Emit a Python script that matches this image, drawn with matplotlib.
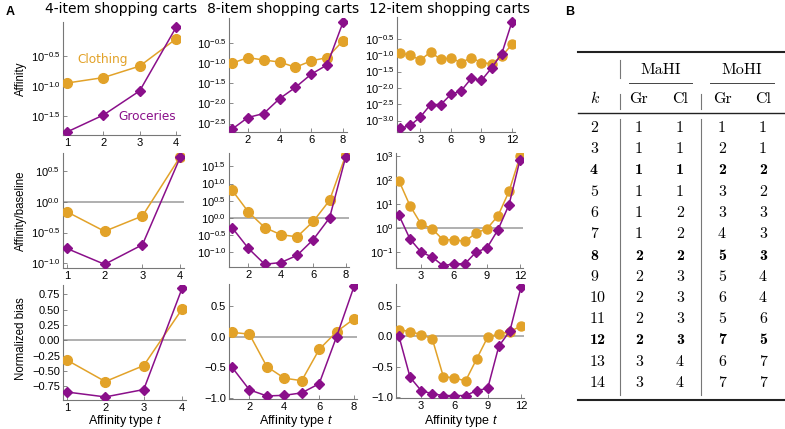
import matplotlib
matplotlib.use("Agg")
import matplotlib.pyplot as plt
import numpy as np

plt.rcParams["font.family"] = ["Liberation Sans", "DejaVu Sans"]
plt.rcParams["mathtext.fontset"] = "custom"
plt.rcParams["mathtext.rm"] = "Liberation Sans"
plt.rcParams["mathtext.it"] = "Liberation Sans:italic"
plt.rcParams["mathtext.bf"] = "Liberation Sans:bold"

# ---- data (rows 1 and 2 as log10 exponents) ----
t4 = [1, 2, 3, 4]
t8 = [1, 2, 3, 4, 5, 6, 7, 8]
t12 = [1, 2, 3, 4, 5, 6, 7, 8, 9, 10, 11, 12]

aff4_cl = [-0.95, -0.86, -0.67, -0.22]
aff4_gr = [-1.76, -1.48, -1.08, -0.03]
aff8_cl = [-1.0, -0.86, -0.92, -0.97, -1.1, -0.94, -0.86, -0.44]
aff8_gr = [-2.64, -2.35, -2.25, -1.88, -1.6, -1.27, -1.04, 0.02]
aff12_cl = [-0.93, -1.0, -1.15, -0.9, -1.13, -1.08, -1.23, -1.07, -1.23, -1.26, -1.03, -0.67]
aff12_gr = [-3.24, -3.15, -2.89, -2.51, -2.51, -2.2, -2.09, -1.71, -1.77, -1.39, -0.95, 0.02]

rel4_cl = [-0.16, -0.48, -0.23, 0.74]
rel4_gr = [-0.76, -1.02, -0.70, 0.73]
rel8_cl = [0.8, 0.17, -0.28, -0.49, -0.55, -0.1, 0.51, 1.83]
rel8_gr = [-0.29, -0.89, -1.35, -1.3, -1.09, -0.63, 0.0, 1.78]
rel12_cl = [1.97, 0.93, 0.17, -0.03, -0.49, -0.49, -0.56, -0.21, -0.03, 0.51, 1.53, 2.99]
rel12_gr = [0.53, -0.46, -1.0, -1.21, -1.57, -1.5, -1.49, -1.01, -0.83, -0.07, 0.97, 2.85]

bias4_cl = [-0.32, -0.67, -0.41, 0.51]
bias4_gr = [-0.84, -0.92, -0.8, 0.85]
bias8_cl = [0.07, 0.04, -0.49, -0.68, -0.72, -0.21, 0.08, 0.29]
bias8_gr = [-0.5, -0.87, -0.97, -0.96, -0.92, -0.77, 0.0, 0.82]
bias12_cl = [0.11, 0.08, 0.03, -0.04, -0.66, -0.68, -0.73, -0.37, -0.01, 0.04, 0.08, 0.17]
bias12_gr = [0.0, -0.67, -0.89, -0.94, -0.97, -0.97, -0.97, -0.89, -0.85, -0.16, 0.09, 0.81]

titles = ["4-item shopping carts", "8-item shopping carts", "12-item shopping carts"]
row_labels = ["Affinity", "Affinity/baseline", "Normalized bias"]
xticks = [[1, 2, 3, 4], [2, 4, 6, 8], [3, 6, 9, 12]]
yticks = [
    [[-1.5, -1.0, -0.5], [-2.5, -2.0, -1.5, -1.0, -0.5], [-3.0, -2.5, -2.0, -1.5, -1.0, -0.5]],
    [[-1.0, -0.5, 0.0, 0.5], [-1.0, -0.5, 0.0, 0.5, 1.0, 1.5], [-1, 0, 1, 2, 3]],
    [[-0.75, -0.5, -0.25, 0.0, 0.25, 0.5, 0.75], [-1.0, -0.5, 0.0, 0.5], [-1.0, -0.5, 0.0, 0.5]],
]

# table B
tab_k = [2, 3, 4, 5, 6, 7, 8, 9, 10, 11, 12, 13, 14]
mahi_gr = [1, 1, 1, 1, 1, 1, 2, 2, 2, 2, 2, 3, 3]
mahi_cl = [1, 1, 1, 1, 2, 2, 2, 3, 3, 3, 3, 4, 4]
mohi_gr = [1, 2, 2, 3, 3, 4, 5, 5, 6, 5, 7, 6, 7]
mohi_cl = [1, 1, 2, 2, 3, 3, 3, 4, 4, 6, 5, 7, 7]
bold_k = [4, 8, 12]

CL = "#e2a229"
GR = "#8a0f8a"

W, H = 785, 429
fig = plt.figure(figsize=(W / 100, H / 100), dpi=100)

# pixel boxes (x0, x1, y0, y1), xlim and ylim for every panel
boxes = [
    [(63, 180, 22, 135), (229, 347, 18, 132), (397, 515, 17, 132)],
    [(63, 184, 153, 268), (229, 349, 153, 267), (396, 523, 153, 268)],
    [(63, 186, 285, 400), (229, 357, 284, 399), (396, 524, 284, 398)],
]
xlims = [
    [(0.89, 4.11), (0.81, 8.25), (0.7, 12.3)],
    [(0.9, 4.1), (0.8, 8.2), (0.73, 12.27)],
    [(0.9, 4.1), (0.83, 8.17), (0.73, 12.27)],
]
ylims = [
    [(-1.81, 0.06), (-2.71, 0.125), (-3.35, 0.17)],
    [(-1.08, 0.8), (-1.43, 1.89), (-1.67, 3.13)],
    [(-0.97, 0.9), (-1.02, 0.86), (-1.01, 0.86)],
]

series = [
    [(t4, aff4_cl, aff4_gr), (t8, aff8_cl, aff8_gr), (t12, aff12_cl, aff12_gr)],
    [(t4, rel4_cl, rel4_gr), (t8, rel8_cl, rel8_gr), (t12, rel12_cl, rel12_gr)],
    [(t4, bias4_cl, bias4_gr), (t8, bias8_cl, bias8_gr), (t12, bias12_cl, bias12_gr)],
]


def fmt_pow(v):
    s = f"{v:d}" if isinstance(v, int) else f"{v:.1f}"
    return r"$\mathregular{10^{" + s + "}}$"


for r in range(3):
    for c in range(3):
        x0, x1, y0, y1 = boxes[r][c]
        ax = fig.add_axes([x0 / W, 1 - y1 / H, (x1 - x0) / W, (y1 - y0) / H])
        t, cl, gr = series[r][c]
        ms_c, ms_g = (7, 5.5) if c < 2 else (6.5, 5)
        if r < 2:
            ax.set_yscale("log")
            cl_v = 10 ** np.array(cl)
            gr_v = 10 ** np.array(gr)
            ax.set_ylim(10 ** ylims[r][c][0], 10 ** ylims[r][c][1])
            ax.set_yticks([10 ** v for v in yticks[r][c]])
            ax.set_yticklabels([fmt_pow(v) for v in yticks[r][c]])
            ax.yaxis.set_minor_locator(matplotlib.ticker.NullLocator())
            ref = 1.0
        else:
            cl_v, gr_v = cl, gr
            ax.set_ylim(*ylims[r][c])
            ax.set_yticks(yticks[r][c])
            f = "{:.2f}" if c == 0 else "{:.1f}"
            ax.set_yticklabels([f.format(v).replace("-", "\u2212") for v in yticks[r][c]])
            ref = 0.0
        if r > 0:
            ax.axhline(ref, color="#9a9a9a", lw=1.1, zorder=1)
        ax.plot(t, cl_v, "-o", color=CL, ms=ms_c, lw=1.1, zorder=3)
        ax.plot(t, gr_v, "-D", color=GR, ms=ms_g, lw=1.1, zorder=4)
        ax.set_xlim(*xlims[r][c])
        ax.set_xticks(xticks[c])
        for s in ["top", "right"]:
            ax.spines[s].set_visible(False)
        for s in ["left", "bottom"]:
            ax.spines[s].set_color("#777777")
            ax.spines[s].set_linewidth(0.8)
        ax.tick_params(direction="in", length=3, width=0.6, color="#777777",
                       labelsize=8, pad=2)
        ax.patch.set_alpha(0)
        if r == 0 and c == 0:
            ax.text(0.12, 0.67, "Clothing", color=CL, fontsize=8.7,
                    family="DejaVu Sans", transform=ax.transAxes, va="center")
            ax.text(0.47, 0.16, "Groceries", color=GR, fontsize=8.7,
                    family="DejaVu Sans", transform=ax.transAxes, va="center")

# overlay in pixel coordinates for titles, labels and table B
cv = fig.add_axes([0, 0, 1, 1])
cv.set_xlim(0, W)
cv.set_ylim(H, 0)
cv.axis("off")

cv.text(10, 12, "A", fontsize=9, weight="bold", ha="center", va="center")
cv.text(570, 12, "B", fontsize=9, weight="bold", ha="center", va="center")
for x, s in zip([121, 283, 449], titles):
    cv.text(x, 9, s, fontsize=10, family="DejaVu Sans", ha="center", va="center")
for y, s in zip([79, 211, 339], row_labels):
    cv.text(21, y, s, fontsize=8.3, rotation=90, ha="center", va="center")
for x in [125, 296, 461]:
    cv.text(x, 421, "Affinity type $t$", fontsize=9, ha="center", va="center")

# table B
rm = dict(family="cmr10", fontsize=11.5, va="center")
bf = dict(family="cmb10", fontsize=11.5, va="center")
cv.plot([578, 785], [52, 52], color="#222222", lw=1.5, clip_on=False)
cv.plot([578, 785], [113, 113], color="#222222", lw=1.0)
cv.plot([578, 785], [400, 400], color="#222222", lw=1.5, clip_on=False)
cv.plot([629, 692], [83, 83], color="#444444", lw=0.7)
cv.plot([710, 774], [83, 83], color="#444444", lw=0.7)
for seg in [(60, 78), (94, 109), (119, 395)]:
    cv.plot([620, 620], seg, color="#777777", lw=0.8)
for seg in [(94, 109), (119, 395)]:
    cv.plot([701, 701], seg, color="#777777", lw=0.8)

cv.text(661, 70, "MaHI", ha="center", **rm)
cv.text(742, 70, "MoHI", ha="center", **rm)
cv.text(590, 99, "k", ha="left", family="cmmi10", fontsize=11.5, va="center")
col_x = [639, 680, 722, 763]
for x, s in zip(col_x, ["Gr", "Cl", "Gr", "Cl"]):
    cv.text(x, 99, s, ha="center", **rm)

for i, k in enumerate(tab_k):
    y = 128 + i * 21.25
    style = bf if k in bold_k else rm
    cv.text(590, y, str(k), ha="left", **style)
    vals = [mahi_gr[i], mahi_cl[i], mohi_gr[i], mohi_cl[i]]
    for x, v in zip(col_x, vals):
        cv.text(x, y, str(v), ha="center", **style)

fig.savefig("out.png", dpi=100)
